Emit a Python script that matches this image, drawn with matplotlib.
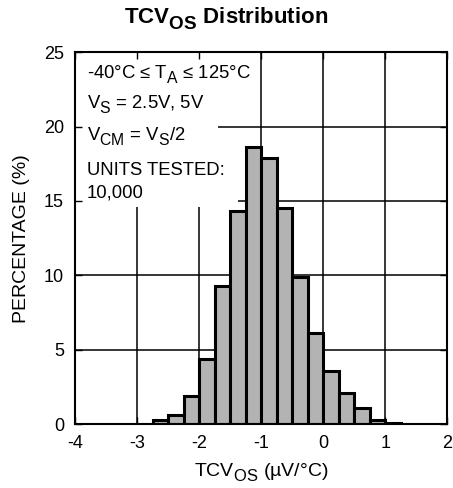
import matplotlib
matplotlib.use("Agg")
import matplotlib.pyplot as plt
from matplotlib.patches import Rectangle
try:
    import matplotlib._mathtext as _mt
    _mt.SHRINK_FACTOR = 0.85
    _mt.FontConstantsBase.sub1 = 0.55
    _mt.FontConstantsBase.sub2 = 0.75
except Exception:
    pass

plt.rcParams['font.family'] = ['Liberation Sans', 'DejaVu Sans']
plt.rcParams['mathtext.fontset'] = 'custom'
plt.rcParams['mathtext.rm'] = 'Liberation Sans'
plt.rcParams['mathtext.it'] = 'Liberation Sans'
plt.rcParams['mathtext.bf'] = 'Liberation Sans:bold'

# Data
bin_left = [-2.75, -2.5, -2.25, -2.0, -1.75, -1.5, -1.25, -1.0,
            -0.75, -0.5, -0.25, 0.0, 0.25, 0.5, 0.75, 1.0]
percentages = [0.3, 0.6, 1.9, 4.4, 9.3, 14.35, 18.6, 17.9,
               14.5, 9.9, 6.1, 3.6, 2.1, 1.1, 0.3, 0.1]
bin_width = 0.25
x_ticks = [-4, -3, -2, -1, 0, 1, 2]
y_ticks = [0, 5, 10, 15, 20, 25]
info_lines = [r"-40°C ≤ T$_{\mathregular{A}}$ ≤ 125°C",
              r"V$_{\mathregular{S}}$ = 2.5V, 5V",
              r"V$_{\mathregular{CM}}$ = V$_{\mathregular{S}}$/2",
              "UNITS TESTED:",
              "10,000"]
info_y = [23.24, 21.2, 19.07, 16.72, 15.25]

fig = plt.figure(figsize=(4.53, 4.88), dpi=100)
ax = fig.add_axes([0.166, 0.131, 0.821, 0.762])

ax.set_xlim(-4, 2)
ax.set_ylim(0, 25)

for xv in x_ticks:
    ax.axvline(xv, color='black', lw=1.1, zorder=0.5)
for yv in y_ticks:
    ax.axhline(yv, color='black', lw=1.1, zorder=0.5)

# white box behind annotation
ax.add_patch(Rectangle((-4, 14.6), 2.31, 10.4, facecolor='white', edgecolor='none', zorder=1))
ax.add_patch(Rectangle((-1.7, 14.6), 0.33, 0.7, facecolor='white', edgecolor='none', zorder=1))

ax.bar(bin_left, percentages, width=bin_width, align='edge',
       color='#b3b3b3', edgecolor='black', linewidth=2.2, zorder=2)

ax.set_xticks(x_ticks)
ax.set_yticks(y_ticks)
ax.set_xticklabels([str(v) for v in x_ticks])
ax.tick_params(direction='in', length=5, width=1, top=True, right=True,
               labelsize=13, colors='black')
ax.tick_params(axis='y', pad=8)
ax.tick_params(axis='x', pad=8)
for s in ax.spines.values():
    s.set_linewidth(1.5)

for txt, yv in zip(info_lines, info_y):
    ax.text(-3.81, yv, txt, fontsize=13.3, va='baseline', ha='left', zorder=3)

ax.set_xlabel(r"TCV$_{\mathregular{OS}}$ (µV/°C)", fontsize=14, labelpad=7)
ax.set_ylabel("PERCENTAGE (%)", fontsize=14, labelpad=10)
fig.text(0.5, 0.953, r"TCV$_{\mathbf{OS}}$ Distribution", fontsize=16,
         fontweight='bold', ha='center', va='baseline')

fig.savefig("out.png", dpi=100)
